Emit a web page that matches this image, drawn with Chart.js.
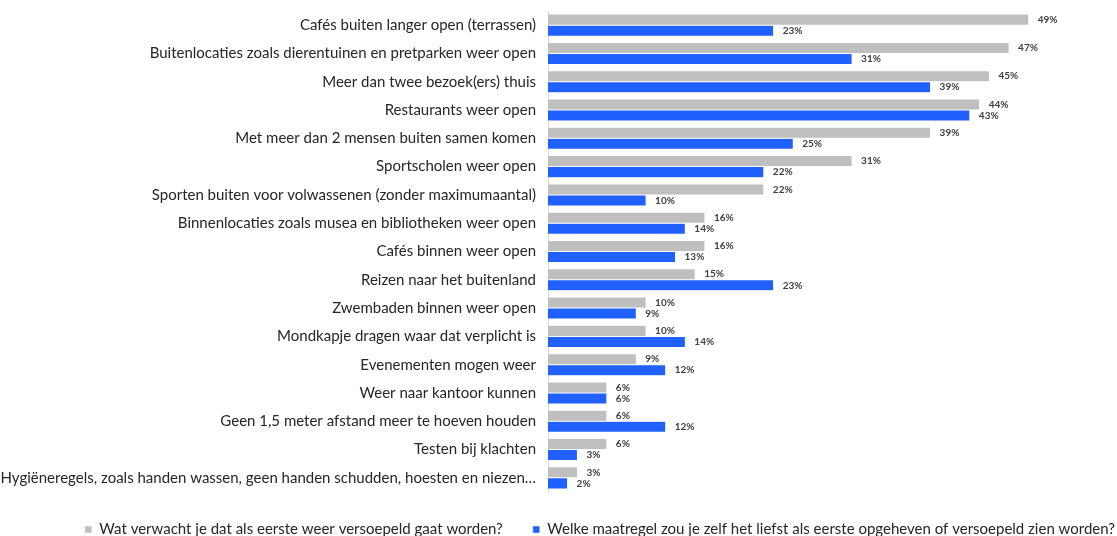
<!DOCTYPE html>
<html>
<head>
<meta charset="utf-8">
<script src="https://cdn.jsdelivr.net/npm/chart.js@4"></script>
<style>
  body { margin: 0; background: #fff; }
</style>
</head>
<body>
<canvas id="my-chart" width="1117" height="536"></canvas>
<script>
'use strict';

const categories = [
  'Cafés buiten langer open (terrassen)',
  'Buitenlocaties zoals dierentuinen en pretparken weer open',
  'Meer dan twee bezoek(ers) thuis',
  'Restaurants weer open',
  'Met meer dan 2 mensen buiten samen komen',
  'Sportscholen weer open',
  'Sporten buiten voor volwassenen (zonder maximumaantal)',
  'Binnenlocaties zoals musea en bibliotheken weer open',
  'Cafés binnen weer open',
  'Reizen naar het buitenland',
  'Zwembaden binnen weer open',
  'Mondkapje dragen waar dat verplicht is',
  'Evenementen mogen weer',
  'Weer naar kantoor kunnen',
  'Geen 1,5 meter afstand meer te hoeven houden',
  'Testen bij klachten',
  'Hygiëneregels, zoals handen wassen, geen handen schudden, hoesten en niezen…'
];

const expectedValues = [49, 47, 45, 44, 39, 31, 22, 16, 16, 15, 10, 10, 9, 6, 6, 6, 3];
const preferredValues = [23, 31, 39, 43, 25, 22, 10, 14, 13, 23, 9, 14, 12, 6, 12, 3, 2];

const seriesNames = [
  'Wat verwacht je dat als eerste weer versoepeld gaat worden?',
  'Welke maatregel zou je zelf het liefst als eerste opgeheven of versoepeld zien worden?'
];

// draws the "49%" labels next to each bar
const barLabels = {
  id: 'barLabels',
  afterDatasetsDraw(chart) {
    const ctx = chart.ctx;
    ctx.save();
    ctx.font = 'bold 10px Lato, sans-serif';
    ctx.fillStyle = '#404040';
    ctx.textBaseline = 'middle';
    ctx.textAlign = 'left';
    chart.data.datasets.forEach((ds, i) => {
      let meta = chart.getDatasetMeta(i);
      meta.data.forEach((bar, j) => {
        ctx.fillText(ds.data[j] + '%', bar.x + 9, bar.y);
      });
    });
    ctx.restore();
  }
};

const chart = document.getElementById('my-chart').getContext('2d');

let chartData = {
  type: 'bar',
  data: {
    labels: categories,
    datasets: [{
      label: seriesNames[0],
      data: expectedValues,
      backgroundColor: '#bfbfbf',
      borderColor: '#ffffff',
      borderWidth: 0.5,
      categoryPercentage: 0.78,
      barPercentage: 1
    },
    {
      label: seriesNames[1],
      data: preferredValues,
      backgroundColor: '#2060ff',
      borderColor: '#ffffff',
      borderWidth: 0.5,
      categoryPercentage: 0.78,
      barPercentage: 1
    }]
  },
  options: {
    indexAxis: 'y',
    responsive: false,
    animation: false,
    layout: {
      padding: { top: 11, right: -28, left: 0, bottom: -11 }
    },
    scales: {
      x: {
        min: 0,
        max: 58,
        ticks: { display: false },
        grid: { display: false, drawTicks: false },
        border: { display: false },
        afterFit(scale) { scale.height = 0; }
      },
      y: {
        grid: { display: false, drawTicks: false },
        border: { display: true, color: '#d9d9d9', width: 1 },
        ticks: {
          color: '#262626',
          padding: 12,
          font: { family: 'Lato, sans-serif', size: 15 }
        },
        afterFit(scale) {
          scale.width = 548;
          scale.paddingTop = 0;
          scale.paddingBottom = 0;
        }
      }
    },
    plugins: {
      tooltip: { enabled: false },
      legend: {
        position: 'bottom',
        align: 'end',
        labels: {
          boxWidth: 7,
          boxHeight: 7,
          padding: 30,
          color: '#262626',
          font: { family: 'Lato, sans-serif', size: 15 }
        }
      }
    }
  },
  plugins: [barLabels]
};

let myChart = new Chart(chart, chartData);
</script>
</body>
</html>
